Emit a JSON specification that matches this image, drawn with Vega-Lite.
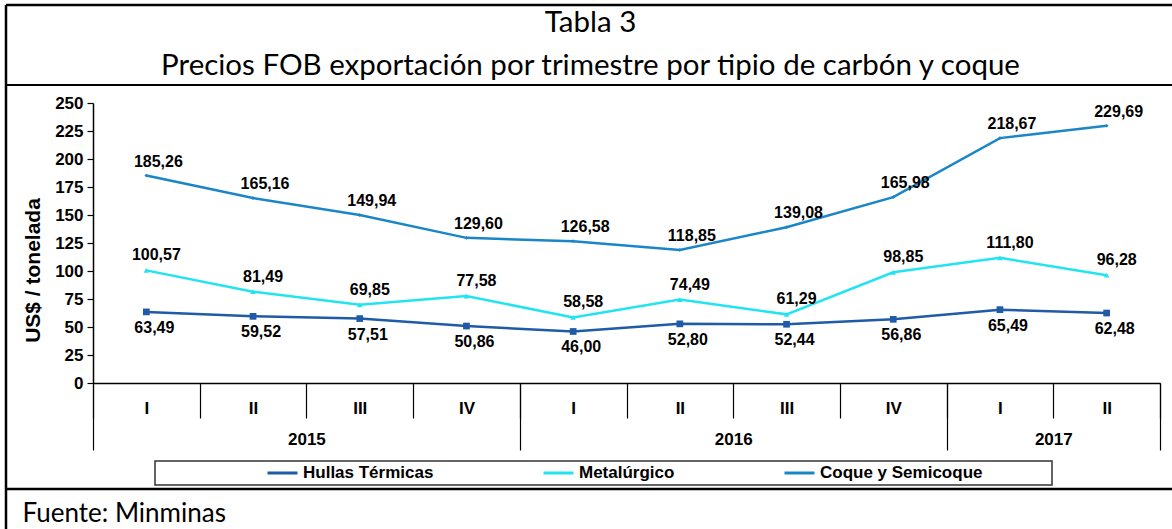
{
  "$schema": "https://vega.github.io/schema/vega-lite/v6.json",
  "width": 1067,
  "height": 280,
  "autosize": {"type": "none"},
  "padding": {"left": 93, "top": 103, "right": 12, "bottom": 146},
  "background": "white",
  "config": {
    "view": {"stroke": null},
    "locale": {"number": {"decimal": ",", "thousands": ".", "grouping": [3], "currency": ["$", ""]}},
    "legend": {"strokeWidth": 1.5}
  },
  "data": {
    "values": [
      {"t": "2015-I", "serie": "Hullas Térmicas", "v": 63.49},
      {"t": "2015-II", "serie": "Hullas Térmicas", "v": 59.52},
      {"t": "2015-III", "serie": "Hullas Térmicas", "v": 57.51},
      {"t": "2015-IV", "serie": "Hullas Térmicas", "v": 50.86},
      {"t": "2016-I", "serie": "Hullas Térmicas", "v": 46.00},
      {"t": "2016-II", "serie": "Hullas Térmicas", "v": 52.80},
      {"t": "2016-III", "serie": "Hullas Térmicas", "v": 52.44},
      {"t": "2016-IV", "serie": "Hullas Térmicas", "v": 56.86},
      {"t": "2017-I", "serie": "Hullas Térmicas", "v": 65.49},
      {"t": "2017-II", "serie": "Hullas Térmicas", "v": 62.48},
      {"t": "2015-I", "serie": "Metalúrgico", "v": 100.57},
      {"t": "2015-II", "serie": "Metalúrgico", "v": 81.49},
      {"t": "2015-III", "serie": "Metalúrgico", "v": 69.85},
      {"t": "2015-IV", "serie": "Metalúrgico", "v": 77.58},
      {"t": "2016-I", "serie": "Metalúrgico", "v": 58.58},
      {"t": "2016-II", "serie": "Metalúrgico", "v": 74.49},
      {"t": "2016-III", "serie": "Metalúrgico", "v": 61.29},
      {"t": "2016-IV", "serie": "Metalúrgico", "v": 98.85},
      {"t": "2017-I", "serie": "Metalúrgico", "v": 111.80},
      {"t": "2017-II", "serie": "Metalúrgico", "v": 96.28},
      {"t": "2015-I", "serie": "Coque y Semicoque", "v": 185.26},
      {"t": "2015-II", "serie": "Coque y Semicoque", "v": 165.16},
      {"t": "2015-III", "serie": "Coque y Semicoque", "v": 149.94},
      {"t": "2015-IV", "serie": "Coque y Semicoque", "v": 129.60},
      {"t": "2016-I", "serie": "Coque y Semicoque", "v": 126.58},
      {"t": "2016-II", "serie": "Coque y Semicoque", "v": 118.85},
      {"t": "2016-III", "serie": "Coque y Semicoque", "v": 139.08},
      {"t": "2016-IV", "serie": "Coque y Semicoque", "v": 165.98},
      {"t": "2017-I", "serie": "Coque y Semicoque", "v": 218.67},
      {"t": "2017-II", "serie": "Coque y Semicoque", "v": 229.69}
    ]
  },
  "encoding": {
    "y": {
      "field": "v", "type": "quantitative",
      "scale": {"domain": [0, 250], "nice": false},
      "axis": {
        "orient": "left", "grid": false,
        "values": [0, 25, 50, 75, 100, 125, 150, 175, 200, 225, 250],
        "domain": true, "domainColor": "black", "domainWidth": 1.5,
        "tickSize": 6, "tickColor": "black", "tickWidth": 1.2,
        "labelFont": "Liberation Sans Narrow, Arial Narrow, sans-serif", "labelFontSize": 17, "labelFontWeight": "bold", "labelColor": "black",
        "labelPadding": 4, "labelFlush": false, "labelBound": false, "format": "d",
        "title": "US$ / tonelada", "titleX": -60, "titleY": 167, "titleAlign": "center", "titleBaseline": "middle", "titleAngle": 270,
        "titleFont": "Liberation Sans", "titleFontSize": 21, "titleFontWeight": "bold", "titleColor": "black"
      }
    }
  },
  "layer": [
    {
      "data": {"values": [{}]},
      "mark": {"type": "rule", "color": "black", "strokeWidth": 2.5},
      "encoding": {"x": {"value": -87}, "x2": {"value": 1079}, "y": {"value": -98}}
    },
    {
      "data": {"values": [{}]},
      "mark": {"type": "rule", "color": "black", "strokeWidth": 2.5},
      "encoding": {"x": {"value": -87}, "y": {"value": -98}, "y2": {"value": 426}}
    },
    {
      "data": {"values": [{}]},
      "mark": {"type": "rule", "color": "black", "strokeWidth": 2},
      "encoding": {"x": {"value": -87}, "x2": {"value": 1079}, "y": {"value": -18}}
    },
    {
      "data": {"values": [{}]},
      "mark": {"type": "rule", "color": "black", "strokeWidth": 2.5},
      "encoding": {"x": {"value": -87}, "x2": {"value": 1079}, "y": {"value": 386}}
    },
    {
      "data": {"values": [{}]},
      "mark": {"type": "rule", "color": "black", "strokeWidth": 1.5},
      "encoding": {"y": {"datum": 0}}
    },
    {
      "mark": {"type": "line", "strokeWidth": 2.5},
      "encoding": {
        "x": {
          "field": "t", "type": "nominal",
          "sort": ["2015-I", "2015-II", "2015-III", "2015-IV", "2016-I", "2016-II", "2016-III", "2016-IV", "2017-I", "2017-II"],
          "scale": {"type": "band", "paddingInner": 0, "paddingOuter": 0},
          "bandPosition": 0.5,
          "axis": {
            "orient": "bottom", "grid": false,
            "domain": true, "domainColor": "black", "domainWidth": 1.5,
            "ticks": true, "tickBand": "extent", "tickSize": 35, "tickColor": "black", "tickWidth": 1.2,
            "labelExpr": "split(datum.label, '-')[1]", "labelAngle": 0, "labelOverlap": false, "labelBound": false,
            "labelFont": "Liberation Sans Narrow, Arial Narrow, sans-serif", "labelFontSize": 17, "labelFontWeight": "bold", "labelColor": "black",
            "labelPadding": -18,
            "title": ["Tabla 3", "Precios FOB exportación por trimestre por tipio de carbón y coque"],
            "titleX": 497, "titleY": -352, "titleAlign": "center", "titleBaseline": "alphabetic", "titleAngle": 0,
            "titleFont": "Lato", "titleFontSize": 29.5, "titleFontWeight": "normal", "titleColor": "black", "titleLineHeight": 43
          }
        },
        "color": {
          "field": "serie", "type": "nominal",
          "scale": {"domain": ["Hullas Térmicas", "Metalúrgico", "Coque y Semicoque"], "range": ["#1f5ba6", "#22e4f0", "#1a86c8"]},
          "legend": {
            "title": "\u00a0", "titleOrient": "right", "titlePadding": 67, "titleFontSize": 10,
            "orient": "none", "legendX": 62, "legendY": 358, "direction": "horizontal",
            "strokeColor": "#333", "fillColor": "white", "padding": 3, "clipHeight": 18,
            "symbolType": "stroke", "symbolSize": 900, "symbolStrokeWidth": 3,
            "symbolOffset": 108, "labelOffset": 4, "columnPadding": -6,
            "labelFont": "Liberation Sans", "labelFontSize": 17, "labelFontWeight": "bold", "labelColor": "black", "labelLimit": 400
          }
        }
      }
    },
    {
      "transform": [{"filter": "datum.serie == 'Hullas Térmicas'"}],
      "mark": {"type": "point", "filled": true, "opacity": 1, "shape": "square", "size": 45, "color": "#1f5ba6"},
      "encoding": {
        "x": {"field": "t", "type": "nominal", "sort": ["2015-I", "2015-II", "2015-III", "2015-IV", "2016-I", "2016-II", "2016-III", "2016-IV", "2017-I", "2017-II"], "bandPosition": 0.5, "axis": null}
      }
    },
    {
      "transform": [{"filter": "datum.serie == 'Metalúrgico'"}],
      "mark": {"type": "point", "filled": true, "opacity": 1, "shape": "triangle-up", "size": 30, "color": "#22e4f0"},
      "encoding": {
        "x": {"field": "t", "type": "nominal", "sort": ["2015-I", "2015-II", "2015-III", "2015-IV", "2016-I", "2016-II", "2016-III", "2016-IV", "2017-I", "2017-II"], "bandPosition": 0.5, "axis": null}
      }
    },
    {
      "transform": [{"filter": "datum.serie == 'Coque y Semicoque'"}],
      "mark": {"type": "point", "filled": true, "opacity": 1, "shape": "diamond", "size": 14, "color": "#1a86c8"},
      "encoding": {
        "x": {"field": "t", "type": "nominal", "sort": ["2015-I", "2015-II", "2015-III", "2015-IV", "2016-I", "2016-II", "2016-III", "2016-IV", "2017-I", "2017-II"], "bandPosition": 0.5, "axis": null}
      }
    },
    {
      "transform": [{"filter": "datum.serie == 'Coque y Semicoque'"}],
      "mark": {"type": "text", "font": "Liberation Sans", "fontSize": 16, "fontWeight": "bold", "color": "black", "baseline": "alphabetic", "dx": 12, "dy": -9},
      "encoding": {
        "x": {
          "field": "t", "type": "nominal",
          "sort": ["2015-I", "2015-II", "2015-III", "2015-IV", "2016-I", "2016-II", "2016-III", "2016-IV", "2017-I", "2017-II"],
          "bandPosition": 0.5,
          "axis": {
            "orient": "bottom", "grid": false, "domain": false,
            "ticks": true, "tickBand": "extent", "tickSize": 67, "tickWidth": 1.2,
            "tickColor": {"condition": {"test": "datum.value == '2015-IV' || datum.value == '2016-IV' || datum.value == '2017-II' || !datum.value", "value": "black"}, "value": "transparent"},
            "labelExpr": "datum.value == '2015-II' ? '2015' : datum.value == '2016-II' ? '2016' : datum.value == '2017-I' ? '2017' : ''",
            "labelAngle": 0, "labelOverlap": false, "labelBound": false, "labelOffset": 53.35,
            "labelFont": "Liberation Sans Narrow, Arial Narrow, sans-serif", "labelFontSize": 17, "labelFontWeight": "bold", "labelColor": "black",
            "labelPadding": -19,
            "title": "Fuente: Minminas", "titleX": -71, "titleY": 138, "titleAlign": "left", "titleBaseline": "alphabetic", "titleAngle": 0,
            "titleFont": "Lato", "titleFontSize": 26, "titleFontWeight": "normal", "titleColor": "black"
          }
        },
        "text": {"field": "v", "type": "quantitative", "format": ".2f"}
      }
    },
    {
      "transform": [{"filter": "datum.serie == 'Metalúrgico'"}],
      "mark": {"type": "text", "font": "Liberation Sans", "fontSize": 16, "fontWeight": "bold", "color": "black", "baseline": "alphabetic", "dx": 10, "dy": -10},
      "encoding": {
        "x": {"field": "t", "type": "nominal", "sort": ["2015-I", "2015-II", "2015-III", "2015-IV", "2016-I", "2016-II", "2016-III", "2016-IV", "2017-I", "2017-II"], "bandPosition": 0.5, "axis": null},
        "text": {"field": "v", "type": "quantitative", "format": ".2f"}
      }
    },
    {
      "transform": [{"filter": "datum.serie == 'Hullas Térmicas'"}],
      "mark": {"type": "text", "font": "Liberation Sans", "fontSize": 16, "fontWeight": "bold", "color": "black", "baseline": "alphabetic", "dx": 8, "dy": 21},
      "encoding": {
        "x": {"field": "t", "type": "nominal", "sort": ["2015-I", "2015-II", "2015-III", "2015-IV", "2016-I", "2016-II", "2016-III", "2016-IV", "2017-I", "2017-II"], "bandPosition": 0.5, "axis": null},
        "text": {"field": "v", "type": "quantitative", "format": ".2f"}
      }
    }
  ],
  "resolve": {"axis": {"x": "independent"}}
}
